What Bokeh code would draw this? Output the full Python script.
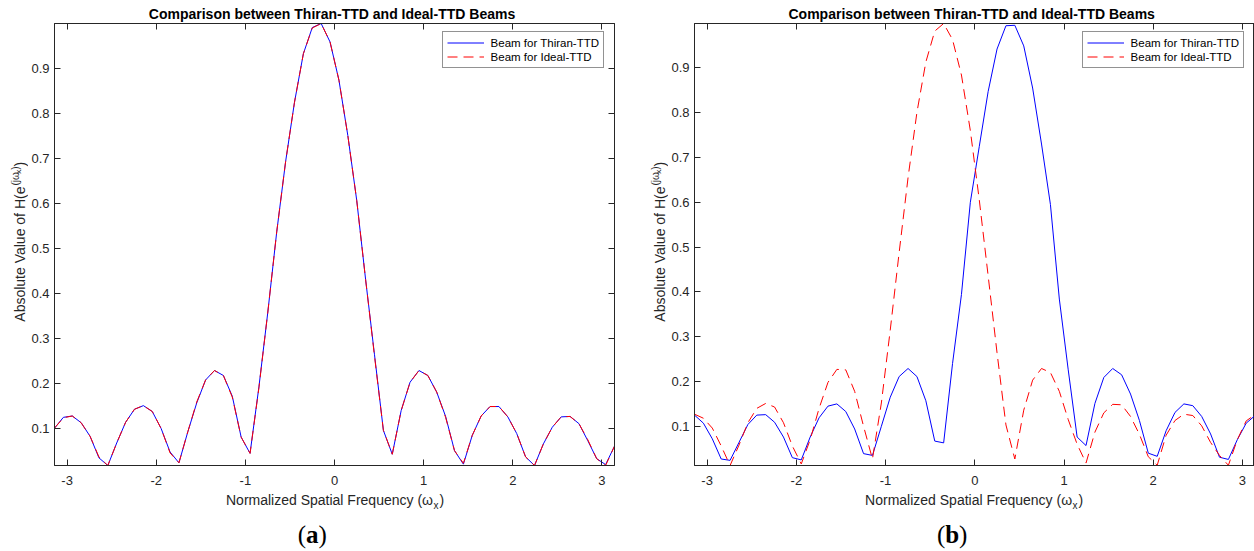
import math
from bokeh.plotting import figure
from bokeh.models import (Range1d, LinearAxis, FixedTicker, Label, Legend,
                          LegendItem, ColumnDataSource)
from bokeh.layouts import row, column
from bokeh.core.properties import value
from bokeh.embed import file_html
from bokeh.resources import INLINE

# ---------------- data ----------------
omega_x = [-3.1416, -3.0419, -2.9421, -2.8424, -2.7427, -2.6429, -2.5432, -2.4435,
           -2.3437, -2.2440, -2.1443, -2.0446, -1.9448, -1.8451, -1.7454, -1.6456,
           -1.5459, -1.4462, -1.3464, -1.2467, -1.1470, -1.0472, -0.9475, -0.8478,
           -0.7480, -0.6483, -0.5486, -0.4488, -0.3491, -0.2494, -0.1496, -0.0499,
           0.0499, 0.1496, 0.2494, 0.3491, 0.4488, 0.5486, 0.6483, 0.7480,
           0.8478, 0.9475, 1.0472, 1.1470, 1.2467, 1.3464, 1.4462, 1.5459,
           1.6456, 1.7454, 1.8451, 1.9448, 2.0446, 2.1443, 2.2440, 2.3437,
           2.4435, 2.5432, 2.6429, 2.7427, 2.8424, 2.9421, 3.0419, 3.1416]

# panel (a)
ideal_a = [0.100, 0.123, 0.127, 0.112, 0.082, 0.036, 0.017, 0.067, 0.113, 0.142,
           0.150, 0.137, 0.099, 0.045, 0.023, 0.092, 0.158, 0.207, 0.228, 0.217,
           0.169, 0.080, 0.044, 0.190, 0.358, 0.536, 0.692, 0.824, 0.932, 0.989,
           0.999, 0.958, 0.873, 0.750, 0.606, 0.430, 0.260, 0.095, 0.042, 0.139,
           0.202, 0.228, 0.217, 0.180, 0.124, 0.050, 0.022, 0.084, 0.127, 0.148,
           0.148, 0.125, 0.088, 0.036, 0.017, 0.065, 0.102, 0.125, 0.126, 0.110,
           0.074, 0.032, 0.017, 0.060]
thiran_a = [0.100, 0.124, 0.127, 0.112, 0.082, 0.034, 0.017, 0.067, 0.113, 0.142,
            0.150, 0.137, 0.099, 0.047, 0.023, 0.092, 0.156, 0.207, 0.228, 0.217,
            0.171, 0.080, 0.044, 0.192, 0.358, 0.536, 0.692, 0.824, 0.932, 0.990,
            0.999, 0.958, 0.873, 0.750, 0.606, 0.430, 0.263, 0.095, 0.042, 0.139,
            0.202, 0.228, 0.217, 0.180, 0.126, 0.050, 0.020, 0.084, 0.127, 0.148,
            0.148, 0.125, 0.088, 0.036, 0.017, 0.065, 0.102, 0.125, 0.126, 0.110,
            0.072, 0.032, 0.019, 0.060]

# panel (b)
thiran_b = [0.125, 0.107, 0.072, 0.027, 0.024, 0.064, 0.104, 0.125, 0.126, 0.109,
            0.076, 0.030, 0.025, 0.076, 0.119, 0.145, 0.150, 0.133, 0.094, 0.039,
            0.035, 0.100, 0.165, 0.211, 0.229, 0.211, 0.157, 0.067, 0.063, 0.240,
            0.394, 0.600, 0.724, 0.847, 0.942, 0.994, 0.995, 0.949, 0.855, 0.730,
            0.595, 0.384, 0.226, 0.076, 0.057, 0.151, 0.209, 0.229, 0.215, 0.172,
            0.113, 0.040, 0.033, 0.090, 0.131, 0.150, 0.146, 0.122, 0.083, 0.031,
            0.026, 0.070, 0.107, 0.124]
ideal_b = [0.127, 0.118, 0.096, 0.056, 0.0125, 0.058, 0.108, 0.140, 0.151, 0.143,
           0.108, 0.056, 0.016, 0.070, 0.140, 0.198, 0.227, 0.226, 0.178, 0.100,
           0.027, 0.152, 0.315, 0.488, 0.655, 0.801, 0.913, 0.982, 0.999, 0.963,
           0.884, 0.760, 0.606, 0.436, 0.264, 0.103, 0.027, 0.136, 0.203, 0.229,
           0.220, 0.178, 0.115, 0.060, 0.018, 0.087, 0.130, 0.149, 0.148, 0.122,
           0.082, 0.032, 0.013, 0.080, 0.113, 0.127, 0.124, 0.101, 0.064, 0.035,
           0.013, 0.070, 0.112, 0.126]

x_ticks = [-3, -2, -1, 0, 1, 2, 3]
x_tick_labels = ["-3", "-2", "-1", "0", "1", "2", "3"]
y_ticks = [0.1, 0.2, 0.3, 0.4, 0.5, 0.6, 0.7, 0.8, 0.9]
y_tick_labels = ["0.1", "0.2", "0.3", "0.4", "0.5", "0.6", "0.7", "0.8", "0.9"]

title_text = "Comparison between Thiran-TTD and Ideal-TTD Beams"
legend_labels = ["Beam for Thiran-TTD", "Beam for Ideal-TTD"]
xlabel_main = "Normalized Spatial Frequency (\u03c9"
ylabel_main = "Absolute Value of H(e"

# ---------------- style / layout ----------------
FONT = "Liberation Sans"
SERIF = "Liberation Serif"
AX = "#262626"
PAGE_W = 1254
TOP_H = 23          # strip holding the titles
MID_H = 469         # plots: frame 442 + bottom axis 27
BOT_H = 59          # strip holding x labels and captions
FRAME_H = 442
YL_W = 28           # strip holding the rotated y label
BL_SHIFT = 0.27     # alphabetic anchor sits this many em above the drawn baseline


def text_strip(width, height, x0, y0):
    """A figure whose frame is the whole canvas; ranges are page pixels (y down)."""
    f = figure(width=width, height=height, x_range=Range1d(x0, x0 + width),
               y_range=Range1d(y0 + height, y0), output_backend="svg",
               toolbar_location=None, min_border=0, x_axis_location=None,
               y_axis_location=None)
    f.outline_line_color = None
    f.grid.visible = False
    f.background_fill_color = "white"
    f.border_fill_color = "white"
    return f


def put(f, x, y, text, size_px, font=FONT, bold=False, rotated=False, align="left",
        color=AX):
    """Place text so that its drawn baseline lands at page (x, y) (or x for rotated)."""
    shift = BL_SHIFT * size_px
    if rotated:
        x = x - shift
    else:
        y = y - shift
    f.add_layout(Label(x=x, y=y, text=text, text_font=font,
                       text_font_size="%gpx" % size_px,
                       text_font_style="bold" if bold else "normal",
                       angle=(math.pi / 2 if rotated else 0.0),
                       text_align=align, text_baseline="alphabetic",
                       text_color=color))


def style_axis(ax, labels):
    ax.major_tick_in = 6
    ax.major_tick_out = 0
    ax.minor_tick_line_color = None
    ax.axis_line_color = AX
    ax.axis_line_width = 1
    ax.major_tick_line_color = AX
    ax.major_label_text_font = FONT
    ax.major_label_text_color = AX
    if labels:
        ax.major_label_text_font_size = "13px"
    else:
        ax.major_label_text_font_size = "0px"
        ax.major_label_standoff = 0


def make_plot(thiran, ideal, width, bl, br, x_end, right_axis):
    ymin = min(min(thiran), min(ideal))
    ymax = max(max(thiran), max(ideal))
    p = figure(width=width, height=MID_H, x_range=Range1d(-math.pi, x_end),
               y_range=Range1d(ymin, ymax), output_backend="svg",
               toolbar_location=None, min_border_left=bl, min_border_right=br,
               min_border_top=0, min_border_bottom=MID_H - FRAME_H,
               x_axis_location=None, y_axis_location=None)
    p.outline_line_color = AX
    p.grid.visible = False
    p.background_fill_color = "white"
    p.border_fill_color = "white"

    xb = LinearAxis(ticker=FixedTicker(ticks=x_ticks),
                    major_label_overrides=dict(zip(x_ticks, x_tick_labels)))
    style_axis(xb, True)
    xb.major_label_standoff = 10
    p.add_layout(xb, "below")

    yl = LinearAxis(ticker=FixedTicker(ticks=y_ticks),
                    major_label_overrides=dict(zip(y_ticks, y_tick_labels)))
    style_axis(yl, True)
    yl.major_label_standoff = 5
    p.add_layout(yl, "left")

    xt = LinearAxis(ticker=FixedTicker(ticks=x_ticks),
                    major_label_overrides={t: "" for t in x_ticks})
    style_axis(xt, False)
    p.add_layout(xt, "above")
    if right_axis:
        yr = LinearAxis(ticker=FixedTicker(ticks=y_ticks),
                        major_label_overrides={t: "" for t in y_ticks})
        style_axis(yr, False)
        p.add_layout(yr, "right")

    src = ColumnDataSource(dict(x=omega_x, thiran=thiran, ideal=ideal))
    r1 = p.line("x", "thiran", source=src, line_color="#0000ff", line_width=1)
    r2 = p.line("x", "ideal", source=src, line_color="#ff0000", line_width=1,
                line_dash="10 6")

    legend = Legend(items=[LegendItem(label=value(legend_labels[0]), renderers=[r1]),
                           LegendItem(label=value(legend_labels[1]), renderers=[r2])],
                    location=(387.6, 396.7), orientation="vertical",
                    border_line_color=AX, border_line_width=1,
                    background_fill_color="white", background_fill_alpha=1.0,
                    padding=4, spacing=1, margin=0,
                    label_text_font=FONT, label_text_font_size="11.5px",
                    label_text_color="black", glyph_width=37, glyph_height=13,
                    label_height=13, label_standoff=7)
    p.add_layout(legend)
    return p


def ylabel_strip(x0):
    f = text_strip(YL_W, MID_H, x0, TOP_H)
    base = x0 + 23.3          # baseline of the normal-size text
    sup = base - 5.5          # baseline of the superscript
    junction = 196.0          # page y where "H(e" ends and the superscript starts
    put(f, base, junction, ylabel_main, 14, rotated=True, align="right")
    put(f, sup, junction - 1.0, "(j\u03c9", 10, rotated=True)
    put(f, sup + 2.8, junction - 13.6, "x", 8, rotated=True)
    put(f, sup, junction - 17.8, ")", 10, rotated=True)
    put(f, base, junction - 21.3, ")", 14, rotated=True)
    return f


# ---------------- build ----------------
top = text_strip(PAGE_W, TOP_H, 0, 0)
for cx in (331.5, 971.2):
    put(top, cx, 17.7, title_text, 14, bold=True, align="center", color="black")

ya = ylabel_strip(0)
pa = make_plot(thiran_a, ideal_a, 612, 26, 26, math.pi, True)
yb = ylabel_strip(640)
pb = make_plot(thiran_b, ideal_b, 586, 26, 0, -math.pi + 560 / 89.22, False)

bot = text_strip(PAGE_W, BOT_H, 0, TOP_H + MID_H)
for dx, letter, lw in ((0, "a", 12.5), (639.1, "b", 13.9)):
    # x label: main text, subscript x, closing parenthesis
    put(bot, 432.5 + dx, 503.3, xlabel_main, 14, align="right")
    put(bot, 433.0 + dx, 507.8, "x", 10)
    put(bot, 439.0 + dx, 503.3, ")", 14)
    # caption
    put(bot, 297.3 + dx, 541.0, "(", 25, font=SERIF, color="black")
    put(bot, 305.6 + dx, 541.0, letter, 25, font=SERIF, bold=True, color="black")
    put(bot, 305.6 + lw + dx, 541.0, ")", 25, font=SERIF, color="black")

layout = column(top, row(ya, pa, yb, pb), bot)
open("out.html", "w").write(file_html(layout, INLINE))
